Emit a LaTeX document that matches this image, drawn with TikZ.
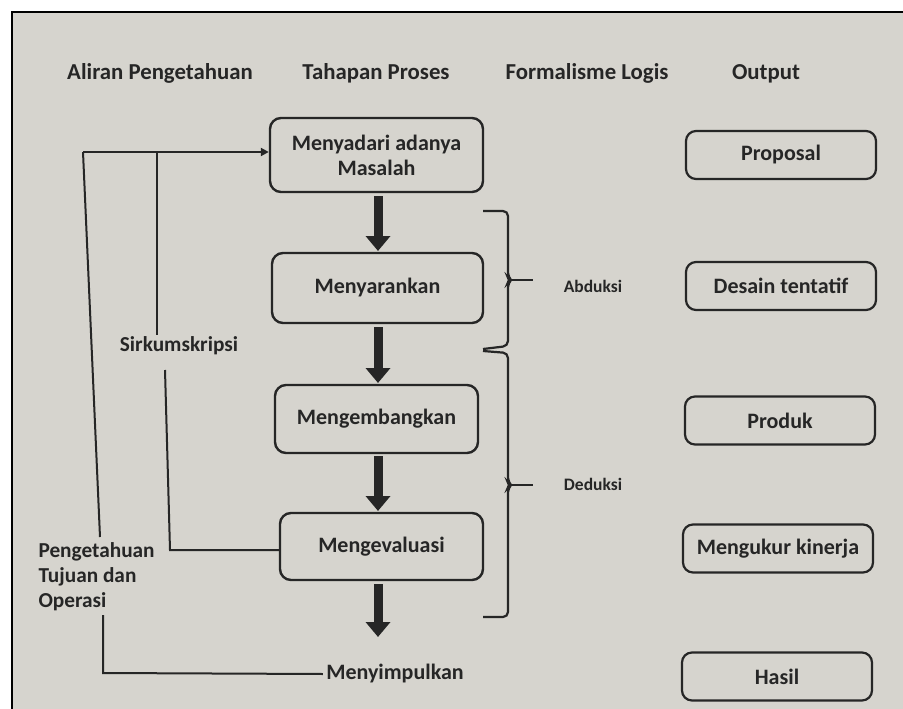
\documentclass[tikz,border=0pt]{standalone}
\usepackage{fontspec}
\setmainfont{Carlito}
\usetikzlibrary{arrows.meta}
\definecolor{paper}{RGB}{214,212,206}
\definecolor{ink}{RGB}{38,38,38}
\begin{document}
\begin{tikzpicture}[x=1pt,y=-1pt,
  every node/.style={font=\fontsize{22}{25}\selectfont\bfseries, text=ink},
  headlabel/.style={font=\fontsize{22.8}{26}\selectfont\bfseries},
  leftlabel/.style={font=\fontsize{21.3}{25}\selectfont\bfseries},
  stagebox/.style={draw=ink, line width=2.4pt, rounded corners=11pt, align=center, inner sep=0pt},
  outbox/.style={draw=ink, line width=2.2pt, rounded corners=10pt, minimum width=190pt, minimum height=48pt, inner sep=0pt},
  bigarrow/.style={draw=ink, line width=9pt, -{Triangle[width=24pt,length=15pt]}},
  thinline/.style={draw=ink, line width=2pt},
  smalllabel/.style={font=\fontsize{17.5}{21}\selectfont\bfseries}
]
\useasboundingbox (0,0) rectangle (903,709);
\fill[white] (0,0) rectangle (903,709);
\fill[paper] (12,12) rectangle (903,709);
\draw[line width=2pt, black] (12,709) -- (12,12) -- (903,12);

% headers
\node[headlabel, anchor=base] (h1) at (160,80) {Aliran Pengetahuan};
\node[headlabel, anchor=base] (h2) at (376,80) {Tahapan Proses};
\node[headlabel, anchor=base] (h3) at (587,80) {Formalisme Logis};
\node[headlabel, anchor=base] (h4) at (766,80) {Output};

% process stages
\node[stagebox, minimum width=213pt, minimum height=74pt] (b1) at (376.5,155) {Menyadari adanya\\Masalah};
\node[stagebox, minimum width=211pt, minimum height=70pt] (b2) at (377.5,288) {Menyarankan};
\node[stagebox, minimum width=203pt, minimum height=68pt] (b3) at (376.5,419) {Mengembangkan};
\node[stagebox, minimum width=203pt, minimum height=67pt] (b4) at (381.5,546.5) {Mengevaluasi};
\node (b5) at (395,674) {Menyimpulkan};

% thick arrows
\coordinate (a1s) at (378,196); \coordinate (a1e) at (378,251);
\coordinate (a2s) at (378,327); \coordinate (a2e) at (378,383);
\coordinate (a3s) at (378,456); \coordinate (a3e) at (378,511);
\coordinate (a4s) at (378,584); \coordinate (a4e) at (378,637);
\draw[bigarrow] (a1s) -- (a1e);
\draw[bigarrow] (a2s) -- (a2e);
\draw[bigarrow] (a3s) -- (a3e);
\draw[bigarrow] (a4s) -- (a4e);

% outputs
\node[outbox] (o1) at (781,155) {Proposal};
\node[outbox] (o2) at (781,286) {Desain tentatif};
\node[outbox] (o3) at (780,420.5) {Produk};
\node[outbox] (o4) at (778,548.5) {Mengukur kinerja};
\node[outbox] (o5) at (777,676.5) {Hasil};

% left side labels
\node[leftlabel] (sk) at (179,346) {Sirkumskripsi};
\node[leftlabel, align=left, anchor=west] (pt) at (35,577) {Pengetahuan\\Tujuan dan\\Operasi};

% left flows
\coordinate (c1) at (83,152);
\coordinate (c2) at (157,152);
\coordinate (c1b) at (100,537);
\coordinate (c2b) at (157,335);
\coordinate (c3t) at (165,370);
\coordinate (c3b) at (170,550);
\coordinate (c4t) at (103,615);
\coordinate (c4b) at (103,673);
\draw[thinline, -{Triangle[width=8pt,length=8pt]}] (c1) -- (c1 -| b1.west);
\draw[thinline] (c1) -- (c1b);
\draw[thinline] (c2) -- (c2b);
\draw[thinline] (c3t) -- (c3b) -- (c3b -| b4.west);
\draw[thinline] (c4t) -- (c4b) -- (b5.west);

% braces
\draw[thinline, line width=2.2pt, rounded corners=5pt]
  (483,211) -- (508,211) -- (508,277) -- (511,280) -- (508,283) -- (508,346) -- (483,349);
\draw[thinline, line width=2.2pt] (510,280) -- (533,280);
\draw[thinline, line width=2.2pt, rounded corners=5pt]
  (483,351) -- (508,353) -- (508,482) -- (511,485) -- (508,488) -- (508,617) -- (483,617);
\draw[thinline, line width=2.2pt] (510,485) -- (533,485);
\node[smalllabel] (abd) at (593,286) {Abduksi};
\node[smalllabel] (ded) at (593,484) {Deduksi};
\end{tikzpicture}
\end{document}
